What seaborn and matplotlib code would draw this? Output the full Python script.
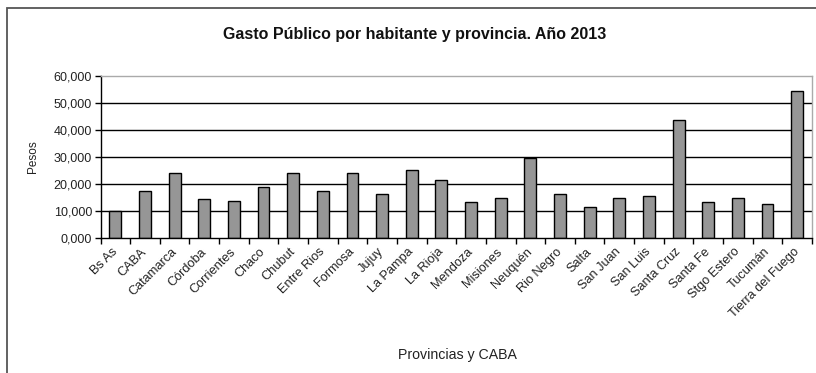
import matplotlib
matplotlib.use("Agg")
import matplotlib.pyplot as plt
from matplotlib.patches import Rectangle
from matplotlib.ticker import FixedLocator
import seaborn as sns
import pandas as pd

provincias = ["Bs As", "CABA", "Catamarca", "Córdoba", "Corrientes", "Chaco", "Chubut",
              "Entre Rios", "Formosa", "Jujuy", "La Pampa", "La Rioja", "Mendoza",
              "Misiones", "Neuquén", "Rio Negro", "Salta", "San Juan", "San Luis",
              "Santa Cruz", "Santa Fe", "Stgo Estero", "Tucumán", "Tierra del Fuego"]
gasto = [9900, 17400, 24000, 14200, 13600, 18600, 23900,
         17400, 23900, 16300, 25100, 21300, 13100,
         14800, 29700, 16300, 11500, 14800, 15500,
         43600, 13100, 14800, 12600, 54400]
y_ticks = [0, 10000, 20000, 30000, 40000, 50000, 60000]
y_labels = ["0,000", "10,000", "20,000", "30,000", "40,000", "50,000", "60,000"]

df = pd.DataFrame({"Provincia": provincias, "Pesos": gasto})

sns.set_theme(style="white")
plt.rcParams["font.family"] = ["Liberation Sans", "DejaVu Sans"]

W, H = 816, 373
fig = plt.figure(figsize=(W / 100, H / 100), dpi=100)
fig.patch.set_facecolor("white")

# outer chart frame
fig.patches.append(Rectangle((7 / W, -0.1), 2.0, 1 - 8 / H + 0.1,
                             transform=fig.transFigure, fill=False,
                             edgecolor="#555555", linewidth=1.3))

ax = fig.add_axes([100.5 / W, 1 - 237.5 / H, (812 - 100.5) / W, (237.5 - 76) / H])

for yv in y_ticks[1:-1]:
    ax.axhline(yv, color="black", linewidth=1.0, zorder=0)

sns.barplot(data=df, x="Provincia", y="Pesos", color="#969696", width=0.4,
            edgecolor="black", linewidth=1.0, saturation=1, ax=ax, zorder=2)

ax.set_xlim(-0.5, len(provincias) - 0.5)
ax.set_ylim(0, 60000)
ax.set_yticks(y_ticks)
ax.set_yticklabels(y_labels, fontsize=9)
ax.tick_params(axis="y", direction="out", length=4, width=1, color="black",
               left=True, pad=2, labelcolor="#222222")

ax.set_xticks(range(len(provincias)))
ax.set_xticklabels(provincias, rotation=45, ha="right", va="center",
                   rotation_mode="anchor", fontsize=9.2, color="#222222")
ax.tick_params(axis="x", which="major", length=0, pad=9)
ax.xaxis.set_minor_locator(FixedLocator([i + 0.5 for i in range(-1, len(provincias))]))
ax.tick_params(axis="x", which="minor", direction="out", length=4, width=1,
               color="black", bottom=True)

for side in ["top", "right"]:
    ax.spines[side].set_color("#aaaaaa")
    ax.spines[side].set_linewidth(1.0)
for side in ["left", "bottom"]:
    ax.spines[side].set_color("black")
    ax.spines[side].set_linewidth(1.0)

ax.set_xlabel("")
ax.set_ylabel("")
fig.text(33 / W, 1 - 157 / H, "Pesos", rotation=90, ha="center", va="center",
         fontsize=8.5, color="#222222")
fig.text(457 / W, 1 - 355 / H, "Provincias y CABA", ha="center", va="center",
         fontsize=10.2, color="#222222")
fig.text(415 / W, 1 - 34 / H, "Gasto Público por habitante y provincia. Año 2013",
         ha="center", va="center", fontsize=11.5, fontweight="bold", color="#111111")

fig.savefig("out.png", dpi=100)
